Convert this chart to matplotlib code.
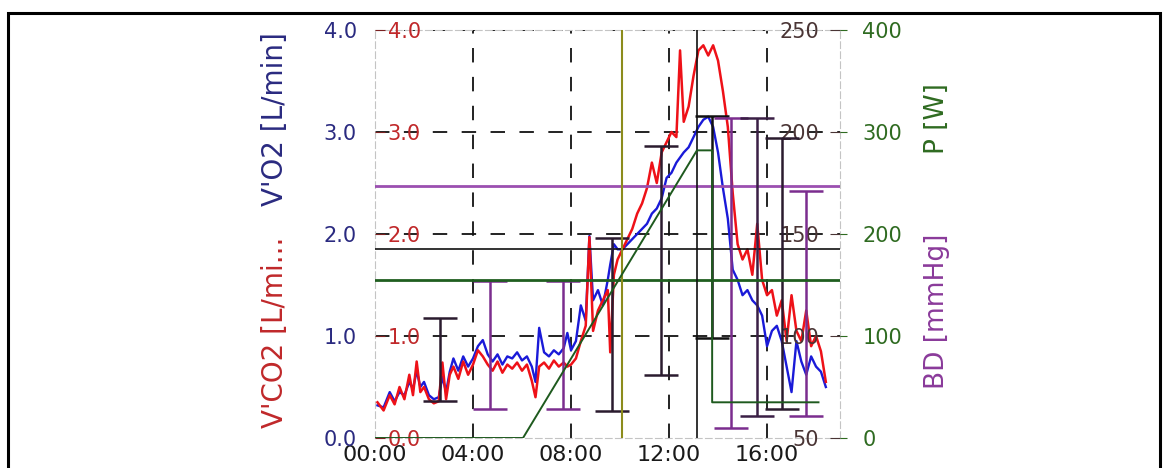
import matplotlib.pyplot as plt
from matplotlib.patches import Rectangle

# time in minutes, gas exchange in L/min
t_min = [0.1, 0.35, 0.6, 0.8, 1.0, 1.2, 1.4, 1.55, 1.7, 1.85, 2.0, 2.2, 2.4, 2.6, 2.75,
         2.9, 3.05, 3.2, 3.4, 3.6, 3.8, 4.0, 4.2, 4.4, 4.6, 4.8, 5.0, 5.2, 5.4, 5.6,
         5.8, 6.0, 6.2, 6.4, 6.55, 6.7, 6.9, 7.1, 7.3, 7.5, 7.7, 7.85, 8.0, 8.2, 8.4,
         8.6, 8.75, 8.9, 9.1, 9.3, 9.5, 9.6, 9.75, 9.9, 10.1, 10.3, 10.5, 10.7, 10.9, 11.1,
         11.3, 11.5, 11.7, 11.9, 12.1, 12.3, 12.45, 12.6, 12.8, 13.0, 13.2, 13.4, 13.6, 13.8, 14.0,
         14.2, 14.4, 14.6, 14.8, 15.0, 15.2, 15.4, 15.6, 15.8, 16.0, 16.2, 16.4, 16.6, 16.8, 17.0,
         17.2, 17.4, 17.6, 17.8, 18.0, 18.2, 18.4]
vco2 = [0.35, 0.27, 0.42, 0.33, 0.50, 0.38, 0.62, 0.42, 0.75, 0.45, 0.50, 0.38, 0.34, 0.36, 0.74,
        0.38, 0.62, 0.70, 0.58, 0.75, 0.62, 0.72, 0.86, 0.80, 0.72, 0.66, 0.75, 0.64, 0.72, 0.68,
        0.74, 0.66, 0.72, 0.56, 0.40, 0.70, 0.74, 0.68, 0.76, 0.70, 0.74, 0.70, 0.72, 0.78, 0.95,
        1.10, 1.97, 1.05, 1.25, 1.35, 1.45, 0.84, 1.60, 1.75, 1.85, 1.95, 2.05, 2.20, 2.30, 2.45,
        2.70, 2.50, 2.80, 2.90, 3.00, 2.95, 3.80, 3.10, 3.25, 3.55, 3.80, 3.85, 3.75, 3.85, 3.70,
        3.40, 3.05, 2.40, 1.90, 1.75, 1.85, 1.60, 2.10, 1.55, 1.40, 1.45, 1.20, 1.35, 0.95, 1.40,
        1.05, 0.95, 1.25, 0.90, 1.00, 0.85, 0.55]
vo2 = [0.32, 0.30, 0.45, 0.36, 0.45, 0.42, 0.55, 0.48, 0.66, 0.50, 0.55, 0.42, 0.38, 0.40, 0.60,
       0.45, 0.65, 0.78, 0.66, 0.80, 0.70, 0.78, 0.90, 0.96, 0.82, 0.75, 0.82, 0.72, 0.80, 0.78,
       0.84, 0.76, 0.80, 0.70, 0.55, 1.08, 0.84, 0.80, 0.86, 0.82, 0.88, 1.03, 0.86, 0.95, 1.30,
       1.15, 1.98, 1.35, 1.45, 1.30, 1.55, 1.70, 1.90, 1.85, 1.85, 1.90, 1.95, 2.00, 2.05, 2.10,
       2.20, 2.25, 2.35, 2.55, 2.60, 2.70, 2.75, 2.80, 2.85, 2.95, 3.05, 3.12, 3.15, 3.05, 2.80,
       2.45, 2.15, 1.65, 1.55, 1.40, 1.45, 1.35, 1.30, 1.20, 0.90, 1.05, 1.10, 0.95, 0.70, 0.45,
       0.95, 0.75, 0.62, 0.80, 0.70, 0.65, 0.50]

# blood pressure readings [mmHg]
bp_t = [2.65, 4.69, 7.67, 9.67, 11.67, 13.76, 14.53, 15.6, 16.6, 17.6]
bp_lo = [68, 64, 64, 63, 81, 99, 55, 61, 64, 61]
bp_hi = [109, 127, 127, 148, 193, 208, 207, 207, 197, 171]
bp_col = ['#2a1b2e', '#7b2d8e', '#7b2d8e', '#2a1b2e', '#2a1b2e', '#111111',
          '#7b2d8e', '#3a1f45', '#2a1b2e', '#7b2d8e']

# load protocol [W]
power_t = [0, 6.04, 13.14, 13.76, 13.76, 18.1]
power_w = [0, 0, 282, 282, 35, 35]

bd_level = 173.5
bd_level2 = 142.6
p_level = 155
t_vt = 10.08
t_end = 13.14

x_ticks = [0, 4, 8, 12, 16]
x_labels = ['00:00', '04:00', '08:00', '12:00', '16:00']

fig = plt.figure(figsize=(11.69, 4.68), dpi=100)
fig.patches.append(Rectangle((8 / 1169, -0.02), 1152 / 1169, 1.02 - 13 / 468,
                             transform=fig.transFigure, fill=False, lw=2.2, ec='k'))

ax = fig.add_axes([0.3208, 0.0641, 0.3978, 0.8718])
ax.set_xlim(0, 18.98)
ax.set_ylim(0, 4)
ax.set_xticks(x_ticks)
ax.set_xticklabels(x_labels, fontsize=16, color='#1a1a1a')
ax.set_yticks([0, 1, 2, 3, 4])
ax.set_yticklabels(['0.0', '1.0', '2.0', '3.0', '4.0'], fontsize=15, color='#2a2a80')
ax.tick_params(axis='x', length=0, pad=5)
ax.tick_params(axis='y', length=0, pad=13)
ax.grid(True, color='#111111', lw=1.3, ls=(0, (8, 8)))
ax.xaxis.get_gridlines()[0].set_visible(False)
ax.yaxis.get_gridlines()[0].set_visible(False)
for s in ax.spines.values():
    s.set_color('#c4c4c4')
    s.set_linestyle((0, (6, 3)))
ax.plot(t_min, vo2, color='#1a1ad8', lw=1.7)

ax_co2 = ax.twinx()
ax_co2.set_ylim(0, 4)
ax_co2.yaxis.set_ticks_position('left')
ax_co2.set_yticks([0, 1, 2, 3, 4])
ax_co2.set_yticklabels(['0.0', '1.0', '2.0', '3.0', '4.0'], fontsize=15, color='#c0282a')
ax_co2.tick_params(axis='y', direction='in', length=7, color='#7a2020', pad=-9)
plt.setp(ax_co2.get_yticklabels(), ha='left')
for s in ax_co2.spines.values():
    s.set_visible(False)
ax_co2.plot(t_min, vco2, color='#ee1118', lw=1.8)

ax_bd = ax.twinx()
ax_bd.set_ylim(50, 250)
ax_bd.set_yticks([50, 100, 150, 200, 250])
ax_bd.tick_params(axis='y', direction='in', length=7, color='#4a3535',
                  labelcolor='#4a3535', labelsize=15, pad=-15)
plt.setp(ax_bd.get_yticklabels(), ha='right')
for s in ax_bd.spines.values():
    s.set_visible(False)
ax_bd.axhline(bd_level, color='#9b4fb0', lw=2)
ax_bd.axhline(bd_level2, color='#111111', lw=1.2)
for t, lo, hi, c in zip(bp_t, bp_lo, bp_hi, bp_col):
    ax_bd.errorbar([t], [(lo + hi) / 2], yerr=[(hi - lo) / 2], fmt='none',
                   ecolor=c, elinewidth=1.8, capsize=12, capthick=1.8)

ax_p = ax.twinx()
ax_p.set_ylim(0, 400)
ax_p.set_yticks([0, 100, 200, 300, 400])
ax_p.tick_params(axis='y', direction='out', length=5, color='#2f6b21',
                 labelcolor='#2f6b21', labelsize=15, pad=11)
for s in ax_p.spines.values():
    s.set_visible(False)
ax_p.axhline(p_level, color='#1f5e1f', lw=2)
ax_p.axvline(t_vt, color='#8c8c1c', lw=1.5)
ax_p.axvline(t_end, color='#111111', lw=1.2)
ax_p.plot(power_t, power_w, color='#1e5a1e', lw=1.4)

fig.text(0.2352, 0.0855, "V'CO2 [L/mi...", rotation=90, ha='center', va='bottom',
         fontsize=20, color='#c0282a')
fig.text(0.2352, 0.932, "V'O2 [L/min]", rotation=90, ha='center', va='top',
         fontsize=20, color='#2a2a80')
fig.text(0.8015, 0.746, 'P [W]', rotation=90, ha='center', va='center',
         fontsize=19, color='#2f6b21')
fig.text(0.8015, 0.335, 'BD [mmHg]', rotation=90, ha='center', va='center',
         fontsize=19, color='#8a3a9a')

fig.savefig('out.png', dpi=100)
